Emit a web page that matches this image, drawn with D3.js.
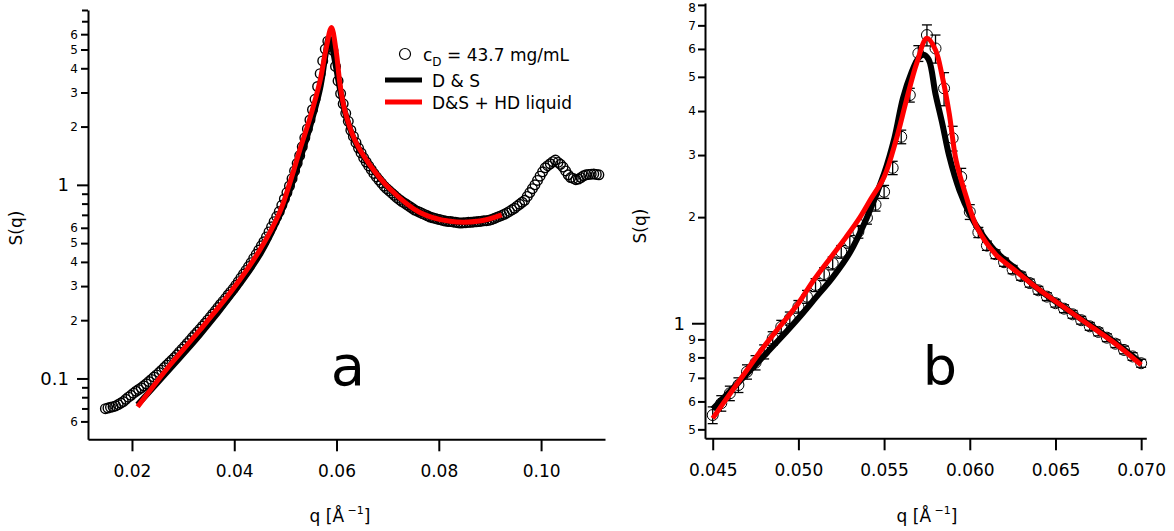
<!DOCTYPE html>
<html>
<head>
<meta charset="utf-8">
<script src="https://cdn.jsdelivr.net/npm/d3@7/dist/d3.min.js"></script>
<style>
  html, body { margin: 0; padding: 0; background: #fff; }
  svg { display: block; font-family: "DejaVu Sans", sans-serif; }
</style>
</head>
<body>
<svg id="chart" width="1174" height="531"></svg>
<script>
// ---------- Panel a: full q range, measured S(q) on a uniform q grid ----------
const leftQStart = 0.0148;
const leftQStep = 0.0005;
const leftS = [
  0.0698, 0.0703, 0.0710, 0.0715, 0.0721, 0.0733, 0.0746, 0.0760, 0.0780, 0.0800,
  0.0818, 0.0839, 0.0859, 0.0877, 0.0895, 0.0916, 0.0938, 0.0964, 0.0989, 0.1016,
  0.1043, 0.1072, 0.1104, 0.1138, 0.1172, 0.1208, 0.1245, 0.1282, 0.1324, 0.1371,
  0.1416, 0.1466, 0.1517, 0.1570, 0.1626, 0.1683, 0.1738, 0.1799, 0.1862, 0.1928,
  0.2000, 0.2075, 0.2153, 0.2234, 0.2323, 0.2410, 0.2500, 0.2594, 0.2698, 0.2799,
  0.2904, 0.3027, 0.3162, 0.3311, 0.3459, 0.3614, 0.3784, 0.3963, 0.4169, 0.4375,
  0.4603, 0.4842, 0.5082, 0.5383, 0.5715, 0.6067, 0.6457, 0.6855, 0.7278, 0.7834,
  0.8453, 0.9120, 0.9863, 1.076, 1.180, 1.291, 1.416, 1.572, 1.750, 1.945,
  2.163, 2.443, 2.767, 3.221, 3.750, 4.365, 5.03, 5.52, 5.43, 4.95,
  4.09, 3.44, 2.96, 2.62, 2.34, 2.13, 1.914, 1.778, 1.652, 1.549,
  1.462, 1.380, 1.312, 1.253, 1.197, 1.146, 1.099, 1.059, 1.021, 0.984,
  0.955, 0.931, 0.906, 0.883, 0.859, 0.838, 0.820, 0.804, 0.789, 0.773,
  0.757, 0.741, 0.731, 0.721, 0.711, 0.701, 0.692, 0.682, 0.676, 0.671,
  0.665, 0.661, 0.655, 0.650, 0.647, 0.646, 0.643, 0.640, 0.637, 0.635,
  0.637, 0.638, 0.640, 0.641, 0.643, 0.644, 0.646, 0.649, 0.652, 0.653,
  0.656, 0.662, 0.670, 0.679, 0.687, 0.695, 0.705, 0.716, 0.729, 0.743,
  0.757, 0.776, 0.794, 0.813, 0.832, 0.871, 0.912, 0.955, 1.000, 1.054,
  1.109, 1.167, 1.225, 1.256, 1.285, 1.318, 1.343, 1.306, 1.276, 1.236,
  1.180, 1.127, 1.091, 1.079, 1.064, 1.072, 1.091, 1.114, 1.127, 1.132,
  1.135, 1.138, 1.132, 1.127
];

// Model curves, panel a
const leftDSQ = [0.0211, 0.0274, 0.0333, 0.0399, 0.0450, 0.0489, 0.0509, 0.0528, 0.0548, 0.0568,
                 0.0578, 0.0585, 0.0591, 0.0598, 0.0607, 0.0616, 0.0636, 0.0665, 0.0704, 0.0763,
                 0.0822, 0.0880, 0.0923];
const leftDSS = [0.0732, 0.112, 0.168, 0.279, 0.435, 0.698, 0.95, 1.34, 1.99, 3.16,
                 4.6, 5.73, 5.2, 4.2, 3.1, 2.40, 1.68, 1.26, 0.955, 0.72,
                 0.648, 0.65, 0.70];
const leftHDQ = [0.0211, 0.0274, 0.0333, 0.0399, 0.0450, 0.0489, 0.0509, 0.0528, 0.0548, 0.0568,
                 0.0579, 0.0590, 0.0599, 0.0607, 0.0616, 0.0636, 0.0665, 0.0704, 0.0763, 0.0822,
                 0.0880, 0.0923];
const leftHDS = [0.0714, 0.117, 0.178, 0.293, 0.461, 0.723, 1.03, 1.51, 2.21, 3.47,
                 4.96, 6.5, 4.96, 3.28, 2.43, 1.70, 1.27, 0.955, 0.72, 0.648,
                 0.65, 0.70];

// ---------- Panel b: zoom around the main peak, with error bars ----------
const rightQStart = 0.0450;
const rightQStep = 0.0005;
const rightS = [
  0.549, 0.593, 0.633, 0.668, 0.728, 0.773, 0.830, 0.906, 0.977, 1.032,
  1.114, 1.189, 1.284, 1.379, 1.479, 1.595, 1.703, 1.818, 1.99, 2.17,
  2.36, 2.76, 3.38, 4.44, 5.83, 6.57, 6.02, 4.64, 3.35, 2.60,
  2.07, 1.81, 1.66, 1.57, 1.49, 1.42, 1.36, 1.30, 1.24, 1.19,
  1.14, 1.10, 1.06, 1.02, 0.98, 0.945, 0.91, 0.875, 0.84, 0.805,
  0.77
];
const rightErr = [
  0.03, 0.03, 0.03, 0.032, 0.034, 0.036, 0.038, 0.04, 0.042, 0.044,
  0.046, 0.05, 0.054, 0.058, 0.062, 0.066, 0.07, 0.075, 0.08, 0.09,
  0.1, 0.12, 0.15, 0.2, 0.3, 0.45, 0.55, 0.5, 0.27, 0.15,
  0.1, 0.06, 0.05, 0.045, 0.04, 0.038, 0.036, 0.034, 0.032, 0.03,
  0.029, 0.028, 0.027, 0.026, 0.025, 0.024, 0.023, 0.022, 0.021, 0.02,
  0.02
];
const rightDSQ = [0.0450, 0.0460, 0.0470, 0.0480, 0.0490, 0.0500, 0.0510, 0.0520, 0.0530, 0.0540,
                  0.0550, 0.0556, 0.0561, 0.0566, 0.0570, 0.0573, 0.0576, 0.0580, 0.0584, 0.0588,
                  0.0594, 0.0600, 0.0606, 0.0615, 0.0625, 0.0640, 0.0655, 0.0670, 0.0685, 0.0700];
const rightDSS = [0.571, 0.641, 0.719, 0.809, 0.912, 1.033, 1.180, 1.349, 1.585, 1.995,
                  2.66, 3.35, 4.35, 5.15, 5.65, 5.78, 5.60, 4.47, 3.68, 2.98,
                  2.38, 2.04, 1.82, 1.60, 1.45, 1.25, 1.11, 0.99, 0.88, 0.772];
const rightHDQ = [0.0450, 0.0460, 0.0470, 0.0480, 0.0489, 0.0500, 0.0509, 0.0519, 0.0528, 0.0536,
                  0.0542, 0.0550, 0.0557, 0.0563, 0.0569, 0.0575, 0.0580, 0.0584, 0.0588, 0.0592,
                  0.0598, 0.0604, 0.0615, 0.0625, 0.0640, 0.0655, 0.0670, 0.0685, 0.0700];
const rightHDS = [0.537, 0.63, 0.737, 0.86, 0.977, 1.14, 1.326, 1.54, 1.76, 2.0,
                  2.24, 2.60, 3.31, 4.29, 5.46, 6.43, 5.96, 5.0, 3.94, 2.90,
                  2.28, 1.88, 1.57, 1.43, 1.25, 1.11, 0.985, 0.875, 0.762];

// ---------- Tick values ----------
const leftXTicks = [0.02, 0.04, 0.06, 0.08, 0.10];
const leftYBig = [0.1, 1];
const leftYSmall = [0.06, 0.2, 0.3, 0.4, 0.5, 0.6, 2, 3, 4, 5, 6];
const leftYMinor = [0.07, 0.08, 0.09, 0.7, 0.8, 0.9, 7, 8];
const rightXTicks = [0.045, 0.050, 0.055, 0.060, 0.065, 0.070];
const rightYBig = [1];
const rightYSmall = [0.5, 0.6, 0.7, 0.8, 0.9, 2, 3, 4, 5, 6, 7, 8];

const legendLabels = ["D & S", "D&S + HD liquid"];
const seriesColors = { data: "#000", ds: "#000", hd: "#ff0000" };

// ---------- Drawing ----------
const svg = d3.select("#chart");

const xL = d3.scaleLinear().domain([0.0114, 0.1125]).range([88, 605]);
const yL = d3.scaleLog().domain([0.0485, 8.0]).range([439.3, 10]);
const xR = d3.scaleLinear().domain([0.04455, 0.0703]).range([705, 1146.3]);
const yR = d3.scaleLog().domain([0.4716, 8.1]).range([438.3, 3]);

// Mantissa label for the small log ticks (0.06 -> "6", 0.3 -> "3", 4 -> "4")
const fmtSmall = d => {
  const v = d < 1 ? Math.round(d * 10 * (d < 0.1 ? 10 : 1)) : d;
  return String(v);
};

function drawXAxis(x, y0, ticks, fmt) {
  const g = svg.append("g").attr("transform", `translate(0,${y0})`)
    .call(d3.axisBottom(x).tickValues(ticks).tickSize(12).tickSizeOuter(0)
      .tickPadding(14).tickFormat(fmt));
  g.select(".domain").attr("stroke-width", 2);
  g.selectAll(".tick line").attr("stroke-width", 2);
  g.selectAll(".tick text").attr("font-size", 17).attr("font-family", "DejaVu Sans").attr("fill", "#000");
}

function drawYAxis(y, x0, big, small, minor, bigFmt, opt) {
  const gBig = svg.append("g").attr("transform", `translate(${x0},0)`)
    .call(d3.axisLeft(y).tickValues(big).tickSize(opt.bigLen).tickSizeOuter(0)
      .tickPadding(opt.bigPad).tickFormat(bigFmt));
  gBig.select(".domain").attr("stroke-width", 2);
  gBig.selectAll(".tick line").attr("stroke-width", 2);
  gBig.selectAll(".tick text").attr("font-size", 18).attr("font-family", "DejaVu Sans").attr("fill", "#000");

  const gSmall = svg.append("g").attr("transform", `translate(${x0},0)`)
    .call(d3.axisLeft(y).tickValues(small).tickSize(7).tickSizeOuter(0)
      .tickPadding(opt.smallPad).tickFormat(fmtSmall));
  gSmall.select(".domain").remove();
  gSmall.selectAll(".tick line").attr("stroke-width", 2);
  gSmall.selectAll(".tick text").attr("font-size", 12).attr("font-family", "DejaVu Sans").attr("fill", "#000")
    // keep a label that sits on the very top edge inside the page
    .attr("dy", function () {
      const t = this.parentNode.getAttribute("transform");
      const ty = +t.match(/,\s*([-\d.]+)/)[1];
      return ty < 8 ? "0.55em" : "0.32em";
    });

  if (minor.length) {
    const gMinor = svg.append("g").attr("transform", `translate(${x0},0)`)
      .call(d3.axisLeft(y).tickValues(minor).tickSize(6).tickSizeOuter(0).tickFormat(""));
    gMinor.select(".domain").remove();
    gMinor.selectAll(".tick line").attr("stroke-width", 2);
  }
}

function axisTitles(cx, titleY, sx, sy) {
  const t = svg.append("text").attr("x", cx).attr("y", titleY)
    .attr("text-anchor", "middle").attr("font-size", 17).attr("fill", "#000");
  t.append("tspan").text("q [Å");
  t.append("tspan").attr("dy", -8).attr("font-size", 11).text(" \u22121");
  t.append("tspan").attr("dy", 8).text("]");
  svg.append("text").attr("transform", `translate(${sx},${sy}) rotate(-90)`)
    .attr("text-anchor", "middle").attr("font-size", 17).attr("fill", "#000").text("S(q)");
}

function drawLine(x, y, qs, ss, color, width) {
  const pts = qs.map((q, i) => [q, ss[i]]);
  svg.append("path").datum(pts)
    .attr("fill", "none").attr("stroke", color).attr("stroke-width", width)
    .attr("stroke-linejoin", "round").attr("stroke-linecap", "butt")
    .attr("d", d3.line().x(d => x(d[0])).y(d => y(d[1])).curve(d3.curveCatmullRom.alpha(0.5)));
}

// Panel a
drawXAxis(xL, 439.3, leftXTicks, d3.format(".2f"));
drawYAxis(yL, 88, leftYBig, leftYSmall, leftYMinor, d => d === 1 ? "1" : "0.1",
  { bigLen: 11, bigPad: 8, smallPad: 3 });
axisTitles(340, 522, 22, 228);

const leftData = leftS.map((s, i) => ({ q: leftQStart + i * leftQStep, s }));
svg.append("g").selectAll("circle").data(leftData).join("circle")
  .attr("cx", d => xL(d.q)).attr("cy", d => yL(d.s)).attr("r", 4.8)
  .attr("fill", "none").attr("stroke", seriesColors.data).attr("stroke-width", 1.4);

drawLine(xL, yL, leftDSQ, leftDSS, seriesColors.ds, 6);
drawLine(xL, yL, leftHDQ, leftHDS, seriesColors.hd, 5);

// Legend
const lg = svg.append("g");
lg.append("circle").attr("cx", 405).attr("cy", 54).attr("r", 5.5)
  .attr("fill", "none").attr("stroke", "#000").attr("stroke-width", 1.2);
const lt = lg.append("text").attr("x", 423).attr("y", 61).attr("font-size", 17).attr("fill", "#000");
lt.append("tspan").text("c");
lt.append("tspan").attr("dy", 5).attr("font-size", 12).text("D");
lt.append("tspan").attr("dy", -5).text(" = 43.7 mg/mL");
[[80, seriesColors.ds], [102, seriesColors.hd]].forEach(([ly, c], i) => {
  lg.append("line").attr("x1", 385).attr("x2", 422).attr("y1", ly).attr("y2", ly)
    .attr("stroke", c).attr("stroke-width", 5);
  lg.append("text").attr("x", 432).attr("y", ly + 7).attr("font-size", 17).attr("fill", "#000")
    .text(legendLabels[i]);
});

svg.append("text").attr("x", 348).attr("y", 385).attr("text-anchor", "middle")
  .attr("font-size", 56).attr("fill", "#000").text("a");

// Panel b
drawXAxis(xR, 438.3, rightXTicks, d3.format(".3f"));
drawYAxis(yR, 705, rightYBig, rightYSmall, [], () => "1",
  { bigLen: 13, bigPad: 7, smallPad: 2 });
axisTitles(927, 522, 646, 226);

const rightData = rightS.map((s, i) => ({ q: rightQStart + i * rightQStep, s, e: rightErr[i] }));
const eb = svg.append("g").attr("stroke", "#000").attr("stroke-width", 1.3);
rightData.forEach(d => {
  const cx = xR(d.q), y1 = yR(d.s - d.e), y2 = yR(d.s + d.e);
  eb.append("line").attr("x1", cx).attr("x2", cx).attr("y1", y1).attr("y2", y2);
  eb.append("line").attr("x1", cx - 5).attr("x2", cx + 5).attr("y1", y1).attr("y2", y1);
  eb.append("line").attr("x1", cx - 5).attr("x2", cx + 5).attr("y1", y2).attr("y2", y2);
});
svg.append("g").selectAll("circle").data(rightData).join("circle")
  .attr("cx", d => xR(d.q)).attr("cy", d => yR(d.s)).attr("r", 5.5)
  .attr("fill", "none").attr("stroke", seriesColors.data).attr("stroke-width", 1);

drawLine(xR, yR, rightDSQ, rightDSS, seriesColors.ds, 6);
drawLine(xR, yR, rightHDQ, rightHDS, seriesColors.hd, 5);

svg.append("text").attr("x", 940).attr("y", 385).attr("text-anchor", "middle")
  .attr("font-size", 54).attr("fill", "#000").text("b");
</script>
</body>
</html>
